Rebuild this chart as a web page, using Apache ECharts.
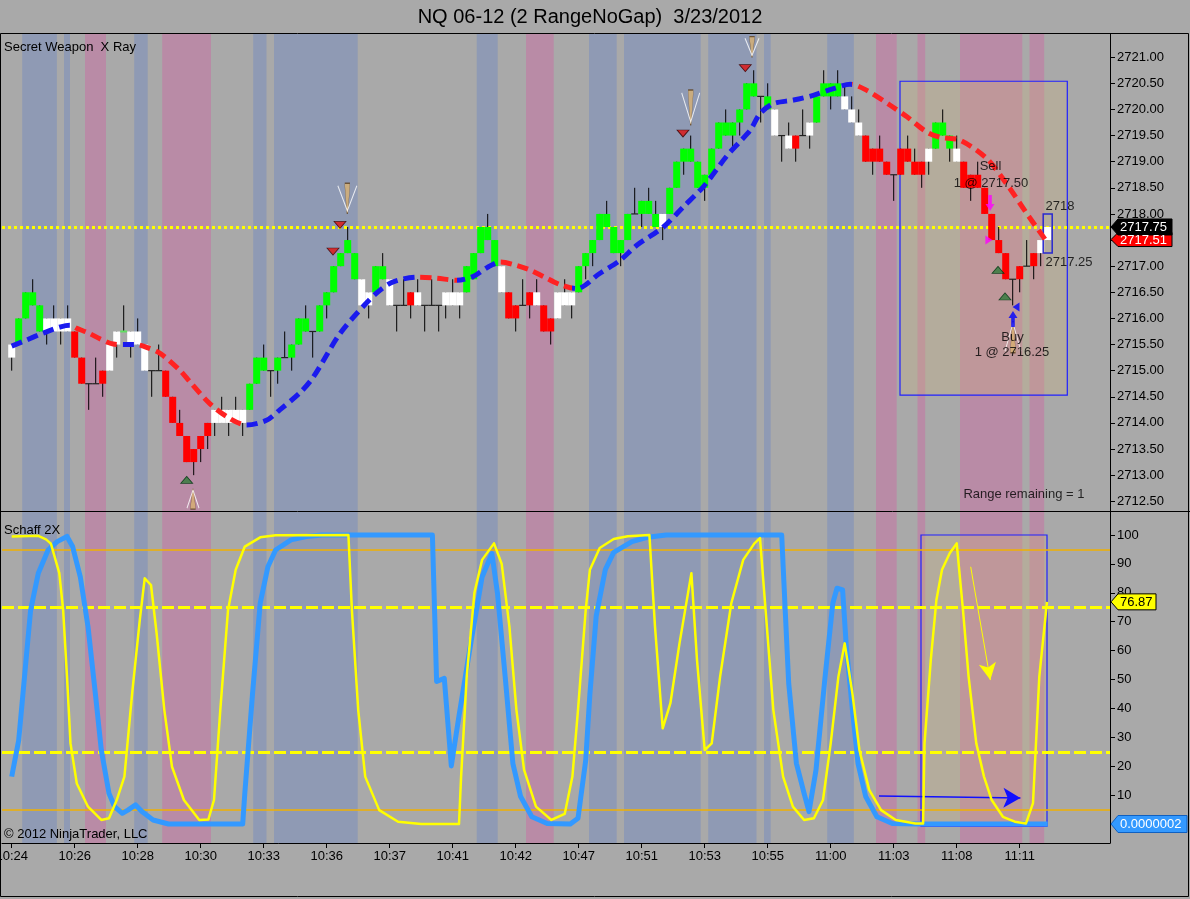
<!DOCTYPE html>
<html>
<head>
<meta charset="utf-8">
<script src="https://cdn.jsdelivr.net/npm/echarts@6/dist/echarts.min.js"></script>
<style>
html,body{margin:0;padding:0;background:#a9a9a9;}
#c{width:1190px;height:899px;}
</style>
</head>
<body>
<div id="c"></div>
<script>
// ---------------- DATA ----------------
const chartTitle = 'NQ 06-12 (2 RangeNoGap)  3/23/2012';
const tickLabels = ['10:24','10:26','10:28','10:30','10:33','10:36','10:37','10:41','10:42','10:47','10:51','10:53','10:55','11:00','11:03','11:08','11:11'];
const barsPerTick = 9;
const priceTickLabels = ['2712.50','2713.00','2713.50','2714.00','2714.50','2715.00','2715.50','2716.00','2716.50','2717.00','2717.50','2718.00','2718.50','2719.00','2719.50','2720.00','2720.50','2721.00'];
const schaffTickLabels = ['10','20','30','40','50','60','70','80','90','100'];

// range bars: body low / body high / wick low / wick high / kind (G green, R red, W white, F flat, g green flat)
const bodyLow = [
2715.25,2715.5,2716.0,2716.25,2715.75,2715.75,2715.75,2715.75,2715.75,2715.25,
2714.75,2714.75,2714.75,2714.75,2715.0,2715.5,2715.75,2715.5,2715.5,2715.0,
2715.0,2715.0,2714.5,2714.0,2713.75,2713.25,2713.25,2713.5,2713.75,2714.0,
2714.0,2714.0,2714.0,2714.0,2714.25,2714.75,2715.0,2715.0,2715.0,2715.25,
2715.25,2715.5,2715.75,2715.75,2715.75,2716.25,2716.5,2717.0,2717.25,2716.75,
2716.25,2716.25,2716.5,2716.75,2716.25,2716.25,2716.25,2716.25,2716.25,2716.25,
2716.25,2716.25,2716.25,2716.25,2716.25,2716.5,2716.75,2717.25,2717.5,2717.0,
2716.5,2716.0,2716.0,2716.25,2716.25,2716.25,2715.75,2715.75,2716.0,2716.25,
2716.25,2716.5,2717.0,2717.25,2717.5,2717.75,2717.25,2717.25,2717.5,2718.0,
2718.0,2718.0,2717.75,2717.75,2718.0,2718.5,2719.0,2719.0,2718.5,2718.5,
2718.75,2719.25,2719.5,2719.5,2719.75,2720.0,2720.25,2720.25,2720.0,2719.5,
2719.5,2719.25,2719.25,2719.5,2719.5,2719.75,2720.25,2720.25,2720.25,2720.0,
2719.75,2719.5,2719.0,2719.0,2719.0,2718.75,2718.75,2718.75,2719.0,2718.75,
2718.75,2719.0,2719.25,2719.5,2719.25,2719.0,2718.5,2718.5,2718.5,2718.0,
2717.5,2717.25,2716.75,2716.75,2716.75,2717.0,2717.0,2717.25,2717.5];
const bodyHigh = [
2715.5,2716.0,2716.5,2716.5,2716.25,2716.0,2716.0,2716.0,2716.0,2715.75,
2715.25,2714.75,2714.75,2715.0,2715.5,2715.75,2715.75,2715.75,2715.75,2715.5,
2715.0,2715.0,2715.0,2714.5,2714.0,2713.75,2713.5,2713.75,2714.0,2714.25,
2714.25,2714.25,2714.25,2714.25,2714.75,2715.25,2715.25,2715.0,2715.25,2715.25,
2715.5,2716.0,2716.0,2715.75,2716.25,2716.5,2717.0,2717.25,2717.5,2717.25,
2716.75,2716.5,2717.0,2717.0,2716.75,2716.25,2716.25,2716.5,2716.5,2716.25,
2716.25,2716.25,2716.5,2716.5,2716.5,2717.0,2717.25,2717.75,2717.75,2717.5,
2717.0,2716.5,2716.25,2716.25,2716.5,2716.5,2716.25,2716.0,2716.5,2716.5,
2716.5,2717.0,2717.25,2717.5,2718.0,2718.0,2717.75,2717.5,2718.0,2718.0,
2718.25,2718.25,2718.0,2718.0,2718.5,2719.0,2719.25,2719.25,2719.0,2718.75,
2719.25,2719.75,2719.75,2719.75,2720.0,2720.5,2720.5,2720.25,2720.25,2720.0,
2719.5,2719.5,2719.5,2719.5,2719.75,2720.25,2720.5,2720.5,2720.5,2720.25,
2720.0,2719.75,2719.5,2719.25,2719.25,2719.0,2718.75,2719.25,2719.25,2719.0,
2719.0,2719.25,2719.75,2719.75,2719.5,2719.25,2719.0,2718.75,2718.75,2718.5,
2718.0,2717.5,2717.25,2716.75,2717.0,2717.0,2717.25,2717.5,2717.75];
const wickLow = [
2715.0,2715.5,2716.0,2716.25,2715.75,2715.5,2715.75,2715.5,2715.75,2715.25,
2714.75,2714.25,2714.75,2714.5,2715.0,2715.25,2715.75,2715.25,2715.5,2715.0,
2714.5,2715.0,2714.5,2714.0,2713.75,2713.25,2713.0,2713.25,2713.5,2713.75,
2714.0,2713.75,2714.0,2713.75,2714.25,2714.75,2715.0,2714.5,2714.75,2715.25,
2715.0,2715.5,2715.75,2715.25,2715.75,2716.0,2716.5,2717.0,2717.25,2716.75,
2716.25,2716.0,2716.5,2716.75,2716.25,2715.75,2716.25,2716.0,2716.25,2715.75,
2716.25,2715.75,2716.0,2716.25,2716.0,2716.5,2716.75,2717.25,2717.5,2717.0,
2716.5,2716.0,2715.75,2716.25,2716.0,2716.25,2715.75,2715.5,2716.0,2716.25,
2716.0,2716.5,2716.75,2717.0,2717.5,2717.75,2717.25,2717.0,2717.5,2718.0,
2717.75,2718.0,2717.75,2717.5,2718.0,2718.5,2718.75,2719.0,2718.5,2718.25,
2718.75,2719.25,2719.5,2719.25,2719.5,2720.0,2720.25,2719.75,2720.0,2719.5,
2719.0,2719.25,2719.0,2719.5,2719.25,2719.75,2720.25,2720.0,2720.25,2720.0,
2719.75,2719.5,2719.0,2718.75,2719.0,2718.75,2718.25,2718.75,2719.0,2718.75,
2718.5,2718.75,2719.25,2719.5,2719.0,2719.0,2718.5,2718.25,2718.5,2718.0,
2717.5,2717.25,2716.75,2716.25,2716.5,2717.0,2716.75,2717.0,2717.5];
const wickHigh = [
2715.5,2716.0,2716.5,2716.75,2716.25,2716.0,2716.25,2716.0,2716.25,2715.75,
2715.25,2714.75,2715.25,2715.0,2715.5,2715.75,2716.25,2715.75,2716.0,2715.5,
2715.0,2715.5,2715.0,2714.5,2714.25,2713.75,2713.5,2713.75,2714.0,2714.25,
2714.5,2714.25,2714.5,2714.25,2714.75,2715.25,2715.5,2715.0,2715.25,2715.75,
2715.5,2716.0,2716.25,2715.75,2716.25,2716.5,2717.0,2717.25,2717.75,2717.25,
2716.75,2716.5,2717.0,2717.25,2716.75,2716.25,2716.75,2716.5,2716.75,2716.25,
2716.75,2716.25,2716.5,2716.75,2716.5,2717.0,2717.25,2717.75,2718.0,2717.5,
2717.0,2716.5,2716.25,2716.75,2716.5,2716.75,2716.25,2716.0,2716.5,2716.75,
2716.5,2717.0,2717.25,2717.5,2718.0,2718.25,2717.75,2717.5,2718.0,2718.5,
2718.25,2718.5,2718.25,2718.0,2718.5,2719.0,2719.25,2719.5,2719.0,2718.75,
2719.25,2719.75,2720.0,2719.75,2720.0,2720.5,2720.75,2720.25,2720.5,2720.0,
2719.5,2719.75,2719.5,2720.0,2719.75,2720.25,2720.75,2720.5,2720.75,2720.5,
2720.25,2720.0,2719.5,2719.25,2719.5,2719.0,2718.75,2719.25,2719.5,2719.25,
2719.0,2719.25,2719.75,2720.0,2719.5,2719.5,2719.0,2718.75,2719.0,2718.5,
2718.0,2717.75,2717.25,2716.75,2717.0,2717.5,2717.25,2717.5,2717.75];
const barKind = ('WGGGGWWWWR'+'RFFRWWgWWW'+'FFRRRRRRRW'+'WWWWGGGFGF'+'GGGFGGGGGG'+
  'WWGGWFFRWF'+'FFWWWGGGGG'+'WRRFRWRRWW'+'WGGGGGGGGF'+'GGGWGGGGGG'+
  'GGGGGGGFGW'+'FWRFWGGGGW'+'WWRRRRFRRR'+'RWGGGWRRRR'+'RRRFRFRWW').split('');
const currentBarRange = [2717.25, 2718.0];

// background bands [from bar, to bar, type]
const bands = [
 [1.5,6.45,'B'],[7.47,8.33,'B'],[10.47,13.47,'P'],[17.5,19.43,'B'],[21.5,28.47,'P'],
 [34.5,36.4,'B'],[37.47,49.43,'B'],[66.43,69.43,'B'],[73.47,77.43,'P'],[82.47,86.43,'B'],
 [87.47,98.43,'B'],[99.5,106.4,'B'],[107.47,108.43,'B'],[116.5,120.3,'B'],[123.47,126.43,'P'],
 [129.4,130.5,'P'],[135.47,144.37,'P'],[145.4,147.5,'P']];

// moving average [bar, price] and trend segments
const maPoints = [[0,2715.47],[2,2715.58],[4.5,2715.72],[7,2715.84],[8.3,2715.87],[9.3,2715.81],[11,2715.72],[12.6,2715.61],[14.5,2715.51],[16,2715.5],[17.6,2715.5],[18.8,2715.47],[21.2,2715.33],[24,2715.01],[25.5,2714.78],[28.3,2714.37],[31.2,2714.08],[33.5,2713.96],[36.4,2714.05],[38.3,2714.25],[41.2,2714.58],[43.1,2714.88],[46.9,2715.71],[50.7,2716.3],[52.6,2716.54],[54.5,2716.7],[57.9,2716.79],[60.7,2716.77],[63.6,2716.73],[65.9,2716.8],[68,2716.98],[69.8,2717.08],[72,2717.02],[74,2716.93],[76,2716.8],[78.3,2716.65],[80.7,2716.57],[84,2716.86],[86.9,2717.11],[89.3,2717.4],[93.1,2717.75],[95.9,2718.13],[98.8,2718.52],[102.1,2719.1],[104,2719.38],[105.5,2719.6],[106.9,2719.92],[108.8,2720.11],[111.7,2720.18],[114.5,2720.27],[117.4,2720.4],[119.8,2720.48],[122.1,2720.37],[125.5,2720.08],[127.9,2719.86],[130.7,2719.57],[132.6,2719.47],[135.5,2719.41],[139.3,2719.06],[142.1,2718.58],[145,2718.01],[147.7,2717.5]];
const maSegments = [[-2,8.5,'up'],[8.5,15.5,'dn'],[15.5,18,'up'],[18,33.5,'dn'],[33.5,58.3,'up'],[58.3,63.6,'dn'],[63.6,69.8,'up'],[69.8,80,'dn'],[80,120,'up'],[120,160,'dn']];

// Schaff 2X [bar, value]
const schaffBlue = [[0,16.4],[1,29],[2.7,74],[3.8,86.8],[5.2,94.8],[6.5,97.7],[7.9,99.5],[8.7,96],[9.8,85.5],[10.9,68.3],[12,44],[12.8,25.6],[13.9,10.6],[14.7,6],[15.8,3.7],[16.6,4.8],[17.7,6.6],[18.6,4.3],[20.2,1.4],[22.4,0],[33,0],[33.3,10.6],[34.4,45],[35.5,76.4],[36.6,89],[37.7,94.8],[39.9,98.3],[42.1,99.5],[44.3,100],[60.1,100],[60.7,49.3],[61.8,50.4],[62.8,20.1],[63.9,37.4],[65.6,62.8],[67.2,85.5],[68.6,93.6],[69.4,79.8],[70.5,50.9],[71.6,20.9],[72.7,9.5],[74.3,2.5],[76.5,0.2],[79.8,0],[80.9,2],[82,22],[82.6,45],[83.5,72],[84.8,88],[86,94],[88.6,97.7],[90.8,99.2],[93.5,100],[110,100],[110.5,74],[111,48.7],[112.1,21],[113.2,10.6],[113.9,4.3],[114.9,18.7],[116.2,51],[117.3,76.4],[117.9,81.6],[118.7,81],[119.2,62.5],[120.1,39.5],[120.9,21],[122,9.5],[123.6,2.5],[125.8,0.2],[129.6,0],[148,0]];
const schaffYellow = [[0,99.5],[3.8,99.7],[4.9,98.5],[5.6,97],[6.8,86.8],[7.35,74],[7.9,51],[8.4,27.9],[9.3,14],[10.9,6],[12.8,1.4],[13.9,2],[15,8.3],[16.1,16.4],[17.2,45],[18.3,70.6],[19,85],[19.9,82.7],[20.7,66],[21.8,39.5],[22.9,19.8],[24.6,8.3],[26.8,1.4],[28.1,1.6],[28.9,8.3],[29.8,39.5],[30.9,74],[32,88],[33.3,96],[35.5,99.2],[37.7,99.9],[48.1,100],[48.6,74],[49.5,39.5],[50.5,16.4],[52.5,4.8],[55.2,0.8],[58.5,0],[63.9,0],[64.2,16.4],[65,51],[66.1,80],[67.2,91.4],[68.9,97.1],[70,90],[71.1,68.3],[72.1,39.5],[73.2,18.7],[74.9,6],[77.1,1.4],[79,3.5],[80.1,16.4],[80.9,39.5],[82,74],[82.6,88],[84,95.5],[86,98.6],[88,99.6],[91.1,100],[91.9,68.3],[93,33.1],[94.1,41.8],[95.4,62.5],[97.1,86.8],[97.9,56.8],[99,25.6],[100,27.9],[101.2,51],[102.8,76.4],[104.5,91.4],[106.1,97.1],[106.9,98.9],[107.7,74],[108.8,39.5],[110.2,16.4],[111.6,6],[113.2,1.4],[114.6,2],[115.9,8.3],[117,27.9],[118.1,51],[119,62.5],[120.1,45.2],[121.1,25.6],[122.5,11.8],[124.2,4.8],[126.3,1.4],[129.1,0.2],[130.2,0.2],[130.4,27.9],[131.3,56.8],[132.1,77.5],[132.9,88],[134,93.7],[135,97.1],[135.9,74],[136.7,51],[137.8,27.9],[138.9,16.4],[140,8.3],[141.6,2.5],[143.3,0.8],[144.9,0.2],[145.9,7.2],[146.8,51],[147.9,76.87]];
const schaffLevels = [95, 75, 25, 5];

// signals / annotations
const sellTriangles = [[45.9,2717.28],[46.9,2717.79],[95.9,2719.54],[104.8,2720.79]];
const buyTriangles = [[25,2712.91],[140.9,2716.93],[141.9,2716.42]];
const downPointers = [[47.95,2718.3,19,25],[97.0,2720.04,18,29],[105.76,2721.2,14,17]];
const upPointers = [[25.9,2712.54,12,18],[143.04,2715.64,16,28]];
const annotations = [
  ['Sell',139.83,2718.9],['1 @ 2717.50',139.9,2718.59],
  ['Buy',142.97,2715.63],['1 @ 2716.25',142.9,2715.34],
  ['2718',149.76,2718.15],['2717.25',151.04,2717.08],
  ['Range remaining = 1',144.6,2712.64]];
const lastPrice = 2717.75, bidPrice = 2717.51;
const schaffYellowLast = '76.87', schaffBlueLast = '0.0000002';
const tradeBoxTop = [[126.9,2720.54],[150.8,2714.53]];
const tradeBoxBottom = [[129.9,100],[147.9,-0.7]];

// ---------------- CHART ----------------
const FONT = "'Liberation Sans', Arial, sans-serif";
const X_MIN = -1.386, X_MAX = 156.9;
const P_MIN = 2712.314, P_MAX = 2721.444;
const S_MIN = -6.57, S_MAX = 107.96;
const BAND_COLORS = {B:'#8f9ab4', P:'#b98ba6'};
const KIND_COLORS = {G:'#00ff00', R:'#ff0000', W:'#ffffff'};
const tickK = tickLabels.map((_, i) => i * barsPerTick);

const chart = echarts.init(document.getElementById('c'), null, {renderer:'canvas'});

function xAxisDef(grid, showLabels){
  return {
    type:'value', gridIndex:grid, min:X_MIN, max:X_MAX, splitLine:{show:false},
    axisLine:{show:showLabels, onZero:false, lineStyle:{color:'#000', width:1}},
    axisTick:{show:showLabels, customValues:tickK, length:5, lineStyle:{color:'#000'}},
    axisLabel:{show:showLabels, customValues:tickK, margin:7, color:'#000', fontSize:13, fontFamily:FONT,
      formatter:(v)=> tickLabels[Math.round(v / barsPerTick)] || ''}
  };
}

const bandArea = bands.map(b => [{xAxis:b[0], itemStyle:{color:BAND_COLORS[b[2]]}}, {xAxis:b[1]}]);
const dummy = [[-100,-100]];

const series = [];
// bands
series.push({type:'line', xAxisIndex:0, yAxisIndex:0, data:dummy, showSymbol:false, z:1, silent:true,
  markArea:{silent:true, data:bandArea}});
series.push({type:'line', xAxisIndex:1, yAxisIndex:1, data:dummy, showSymbol:false, z:1, silent:true,
  markArea:{silent:true, data:bandArea}});
// trade boxes
series.push({type:'line', xAxisIndex:0, yAxisIndex:0, data:dummy, showSymbol:false, z:2, silent:true,
  markArea:{silent:true, itemStyle:{color:'rgba(205,180,125,0.3)', borderColor:'#2020ff', borderWidth:1.2},
    data:[[{xAxis:tradeBoxTop[0][0], yAxis:tradeBoxTop[0][1]},{xAxis:tradeBoxTop[1][0], yAxis:tradeBoxTop[1][1]}]]}});
series.push({type:'line', xAxisIndex:1, yAxisIndex:1, data:dummy, showSymbol:false, z:2, silent:true,
  markArea:{silent:true, itemStyle:{color:'rgba(205,180,125,0.3)', borderColor:'#2020ff', borderWidth:1.2},
    data:[[{xAxis:tradeBoxBottom[0][0], yAxis:tradeBoxBottom[0][1]},{xAxis:tradeBoxBottom[1][0], yAxis:tradeBoxBottom[1][1]}]]}});
// Schaff levels
series.push({type:'line', xAxisIndex:1, yAxisIndex:1, data:dummy, showSymbol:false, z:3, silent:true,
  markLine:{silent:true, symbol:['none','none'], label:{show:false},
    data:schaffLevels.map(v => (v===95||v===5)
      ? {yAxis:v, lineStyle:{color:'#f0b000', width:1.6, type:'solid', opacity:1}}
      : {yAxis:v, lineStyle:{color:'#ffff00', width:3, type:[12,4], opacity:1}})}});
// range bars
series.push({
  type:'custom', xAxisIndex:0, yAxisIndex:0, z:5, clip:true,
  data: bodyLow.map((v,i)=>[i, bodyLow[i], bodyHigh[i], wickLow[i], wickHigh[i]]),
  encode:{x:0, y:[1,2,3,4]},
  renderItem:(params, api)=>{
    const i = api.value(0);
    const w = api.size([1,0])[0];
    const pBL = api.coord([i, api.value(1)]);
    const cx = pBL[0];
    const yBL = pBL[1], yBH = api.coord([i, api.value(2)])[1];
    const yWL = api.coord([i, api.value(3)])[1], yWH = api.coord([i, api.value(4)])[1];
    const kind = barKind[i];
    const ch = [];
    if (yWL - yWH > 0.5) ch.push({type:'line', shape:{x1:cx, y1:yWH, x2:cx, y2:yWL}, style:{stroke:'#000', lineWidth:1}});
    if (yBL - yBH < 1) {
      ch.push({type:'line', shape:{x1:cx-w/2, y1:yBL, x2:cx+w/2, y2:yBL},
        style:{stroke: kind==='g' ? '#60e060' : '#222', lineWidth: kind==='g' ? 2 : 1.2}});
    } else {
      ch.push({type:'rect', shape:{x:cx-w/2, y:yBH, width:w, height:yBL-yBH}, style:{fill:KIND_COLORS[kind] || '#fff'}});
    }
    if (i === bodyLow.length - 1) {
      const yT = api.coord([i, currentBarRange[1]])[1], yB = api.coord([i, currentBarRange[0]])[1];
      ch.push({type:'rect', shape:{x:cx-w/2-1, y:yT, width:w+2, height:yB-yT}, style:{fill:null, stroke:'#2828d0', lineWidth:1.5}});
    }
    return {type:'group', children:ch};
  }
});
// moving average
const maIndex = series.length;
series.push({type:'line', xAxisIndex:0, yAxisIndex:0, z:6, data:maPoints, showSymbol:false, smooth:0.3, silent:true,
  lineStyle:{width:5, type:[11,6], cap:'butt'}});
// yellow dotted price line
series.push({type:'line', xAxisIndex:0, yAxisIndex:0, data:dummy, showSymbol:false, z:7, silent:true,
  markLine:{silent:true, symbol:['none','none'], label:{show:false},
    data:[{yAxis:lastPrice, lineStyle:{color:'#ffff00', width:3, type:[3,3]}}]}});
// signal markers
const markerData = [];
sellTriangles.forEach(p => markerData.push({value:p, symbol:'path://M0,0 L12,0 L6,7 Z', symbolSize:[12,7],
  itemStyle:{color:'#e01010', borderColor:'#300', borderWidth:0.8}}));
buyTriangles.forEach(p => markerData.push({value:p, symbol:'path://M6,0 L12,7 L0,7 Z', symbolSize:[12,7],
  itemStyle:{color:'#2f7a3a', borderColor:'#031', borderWidth:0.8}}));
downPointers.forEach(p => {
  markerData.push({value:[p[0], p[1]], symbol:'path://M1,0 L4,0 L4,3 L2.8,30 L2.2,30 L1,3 Z', symbolSize:[5, p[3]*1.2],
    itemStyle:{color:'#d8b070', borderColor:'#5a4020', borderWidth:0.6}});
  markerData.push({value:[p[0], p[1]], symbol:'path://M0,0 L10,30 L20,0', symbolSize:[p[2], p[3]],
    itemStyle:{color:'rgba(0,0,0,0)', borderColor:'#ffffff', borderWidth:1.2}});
});
upPointers.forEach(p => {
  markerData.push({value:[p[0], p[1]], symbol:'path://M1,0 L4,0 L4,3 L2.8,30 L2.2,30 L1,3 Z', symbolSize:[5, p[3]*1.1], symbolRotate:180,
    itemStyle:{color:'#d8b070', borderColor:'#5a4020', borderWidth:0.6}});
  markerData.push({value:[p[0], p[1]], symbol:'path://M0,0 L10,30 L20,0', symbolSize:[p[2], p[3]], symbolRotate:180,
    itemStyle:{color:'rgba(0,0,0,0)', borderColor:'#ffffff', borderWidth:1.2}});
});
// trade execution arrows
markerData.push({value:[139.76,2718.21], symbol:'path://M3,0 L7,0 L7,9 L10,9 L5,16 L0,9 L3,9 Z', symbolSize:[9,16], itemStyle:{color:'#ff00ff'}});
markerData.push({value:[139.6,2717.5], symbol:'path://M0,0 L8,5 L0,10 Z', symbolSize:[7,9], itemStyle:{color:'#ff00ff'}});
markerData.push({value:[143.04,2715.99], symbol:'path://M3,0 L7,0 L7,9 L10,9 L5,16 L0,9 L3,9 Z', symbolSize:[9,16], symbolRotate:180, itemStyle:{color:'#0000ff'}});
markerData.push({value:[143.47,2716.22], symbol:'path://M8,0 L0,5 L8,10 Z', symbolSize:[7,9], itemStyle:{color:'#0000ff'}});
series.push({type:'scatter', xAxisIndex:0, yAxisIndex:0, z:8, silent:true, data:markerData});
// annotations
series.push({type:'scatter', xAxisIndex:0, yAxisIndex:0, z:9, silent:true, symbolSize:1, clip:false,
  itemStyle:{color:'rgba(0,0,0,0)'},
  label:{show:true, position:'inside', formatter:'{b}', color:'#000', fontSize:13, fontFamily:FONT, textBorderWidth:0},
  data:annotations.map(a => ({name:a[0], value:[a[1], a[2]]}))});
// Schaff lines
series.push({type:'line', xAxisIndex:1, yAxisIndex:1, z:5, data:schaffBlue, showSymbol:false, silent:true,
  lineStyle:{color:'#3399ff', width:5, join:'round'}});
series.push({type:'line', xAxisIndex:1, yAxisIndex:1, z:6, data:schaffYellow, showSymbol:false, silent:true,
  lineStyle:{color:'#ffff00', width:2.5, join:'round'}});
// drawn arrows in the Schaff panel
series.push({type:'line', xAxisIndex:1, yAxisIndex:1, data:dummy, showSymbol:false, z:7, silent:true,
  markLine:{silent:true, label:{show:false}, symbol:['none','arrow'],
    data:[
      [{coord:[137.0,89], lineStyle:{color:'#ffff00', width:1, type:'solid'}}, {coord:[139.8,49.8], symbolSize:[13,17]}],
      [{coord:[123.9,9.7], lineStyle:{color:'#1010ff', width:1.5, type:'solid'}}, {coord:[144.1,9.0], symbolSize:[15,17]}]
    ]}});

const option = {
  backgroundColor:'#a9a9a9',
  animation:false,
  textStyle:{fontFamily:FONT},
  grid:[
    {left:2, top:34, width:1108, height:477, containLabel:false, outerBoundsMode:'none'},
    {left:2, top:512, width:1108, height:331, containLabel:false, outerBoundsMode:'none'}
  ],
  xAxis:[xAxisDef(0,false), xAxisDef(1,true)],
  yAxis:[
    {type:'value', gridIndex:0, position:'right', min:P_MIN, max:P_MAX, splitLine:{show:false},
      axisLine:{show:true, onZero:false, lineStyle:{color:'#000'}},
      axisTick:{show:true, customValues:priceTickLabels.map(Number), length:5, lineStyle:{color:'#000'}},
      axisLabel:{customValues:priceTickLabels.map(Number), margin:7, color:'#000', fontSize:13, fontFamily:FONT,
        formatter:(v)=> priceTickLabels.find(t => Math.abs(Number(t)-v) < 1e-6) || ''}},
    {type:'value', gridIndex:1, position:'right', min:S_MIN, max:S_MAX, splitLine:{show:false},
      axisLine:{show:true, onZero:false, lineStyle:{color:'#000'}},
      axisTick:{show:true, customValues:schaffTickLabels.map(Number), length:5, lineStyle:{color:'#000'}},
      axisLabel:{customValues:schaffTickLabels.map(Number), margin:7, color:'#000', fontSize:13, fontFamily:FONT,
        formatter:(v)=> String(Math.round(v))}}
  ],
  visualMap:[{type:'piecewise', show:false, dimension:0, seriesIndex:maIndex,
    pieces: maSegments.map(s => ({gte:s[0], lt:s[1], color: s[2]==='up' ? '#1a1aee' : '#ff2222'}))}],
  series: series
};
chart.setOption(option);

// ---------------- GRAPHICS (title, frame, labels, price tags) ----------------
const axisX = chart.convertToPixel({xAxisIndex:0}, X_MAX);
const g = [];
g.push({type:'text', x:590, y:17, z:100, style:{text:chartTitle, font:'20px '+FONT, fill:'#000', align:'center', verticalAlign:'middle', textAlign:'center', textVerticalAlign:'middle'}});
g.push({type:'rect', z:100, shape:{x:0.5, y:33.5, width:1188, height:863}, style:{fill:null, stroke:'#000', lineWidth:1}});
g.push({type:'line', z:100, shape:{x1:0, y1:511.5, x2:1190, y2:511.5}, style:{stroke:'#000', lineWidth:1}});
[['Secret Weapon  X Ray',47],['Schaff 2X',530],['\u00a9 2012 NinjaTrader, LLC',834]].forEach(t => {
  g.push({type:'text', x:4, y:t[1], z:100, style:{text:t[0], font:'13px '+FONT, fill:'#000', align:'left', verticalAlign:'middle', textVerticalAlign:'middle'}});
});
function tag(y, w, h, fill, stroke, txt, tcol){
  const x0 = axisX + 1;
  g.push({type:'polygon', z:110, shape:{points:[[x0,y],[x0+7,y-h/2],[x0+w,y-h/2],[x0+w,y+h/2],[x0+7,y+h/2]]},
    style:{fill:fill, stroke:stroke, lineWidth:1}});
  g.push({type:'text', z:111, x:x0+9, y:y+0.5, style:{text:txt, font:'13px '+FONT, fill:tcol, align:'left', verticalAlign:'middle', textVerticalAlign:'middle'}});
}
tag(chart.convertToPixel({yAxisIndex:0}, bidPrice), 61, 14, '#ff0000', '#000', bidPrice.toFixed(2), '#ffffff');
tag(chart.convertToPixel({yAxisIndex:0}, lastPrice), 61, 16, '#000000', '#000', lastPrice.toFixed(2), '#ffffff');
tag(chart.convertToPixel({yAxisIndex:1}, Number(schaffYellowLast)), 45, 16, '#ffff00', '#000', schaffYellowLast, '#000000');
tag(chart.convertToPixel({yAxisIndex:1}, 0), 76, 17, '#3399ff', '#1060c0', schaffBlueLast, '#ffffff');
chart.setOption({graphic:g});
</script>
</body>
</html>
